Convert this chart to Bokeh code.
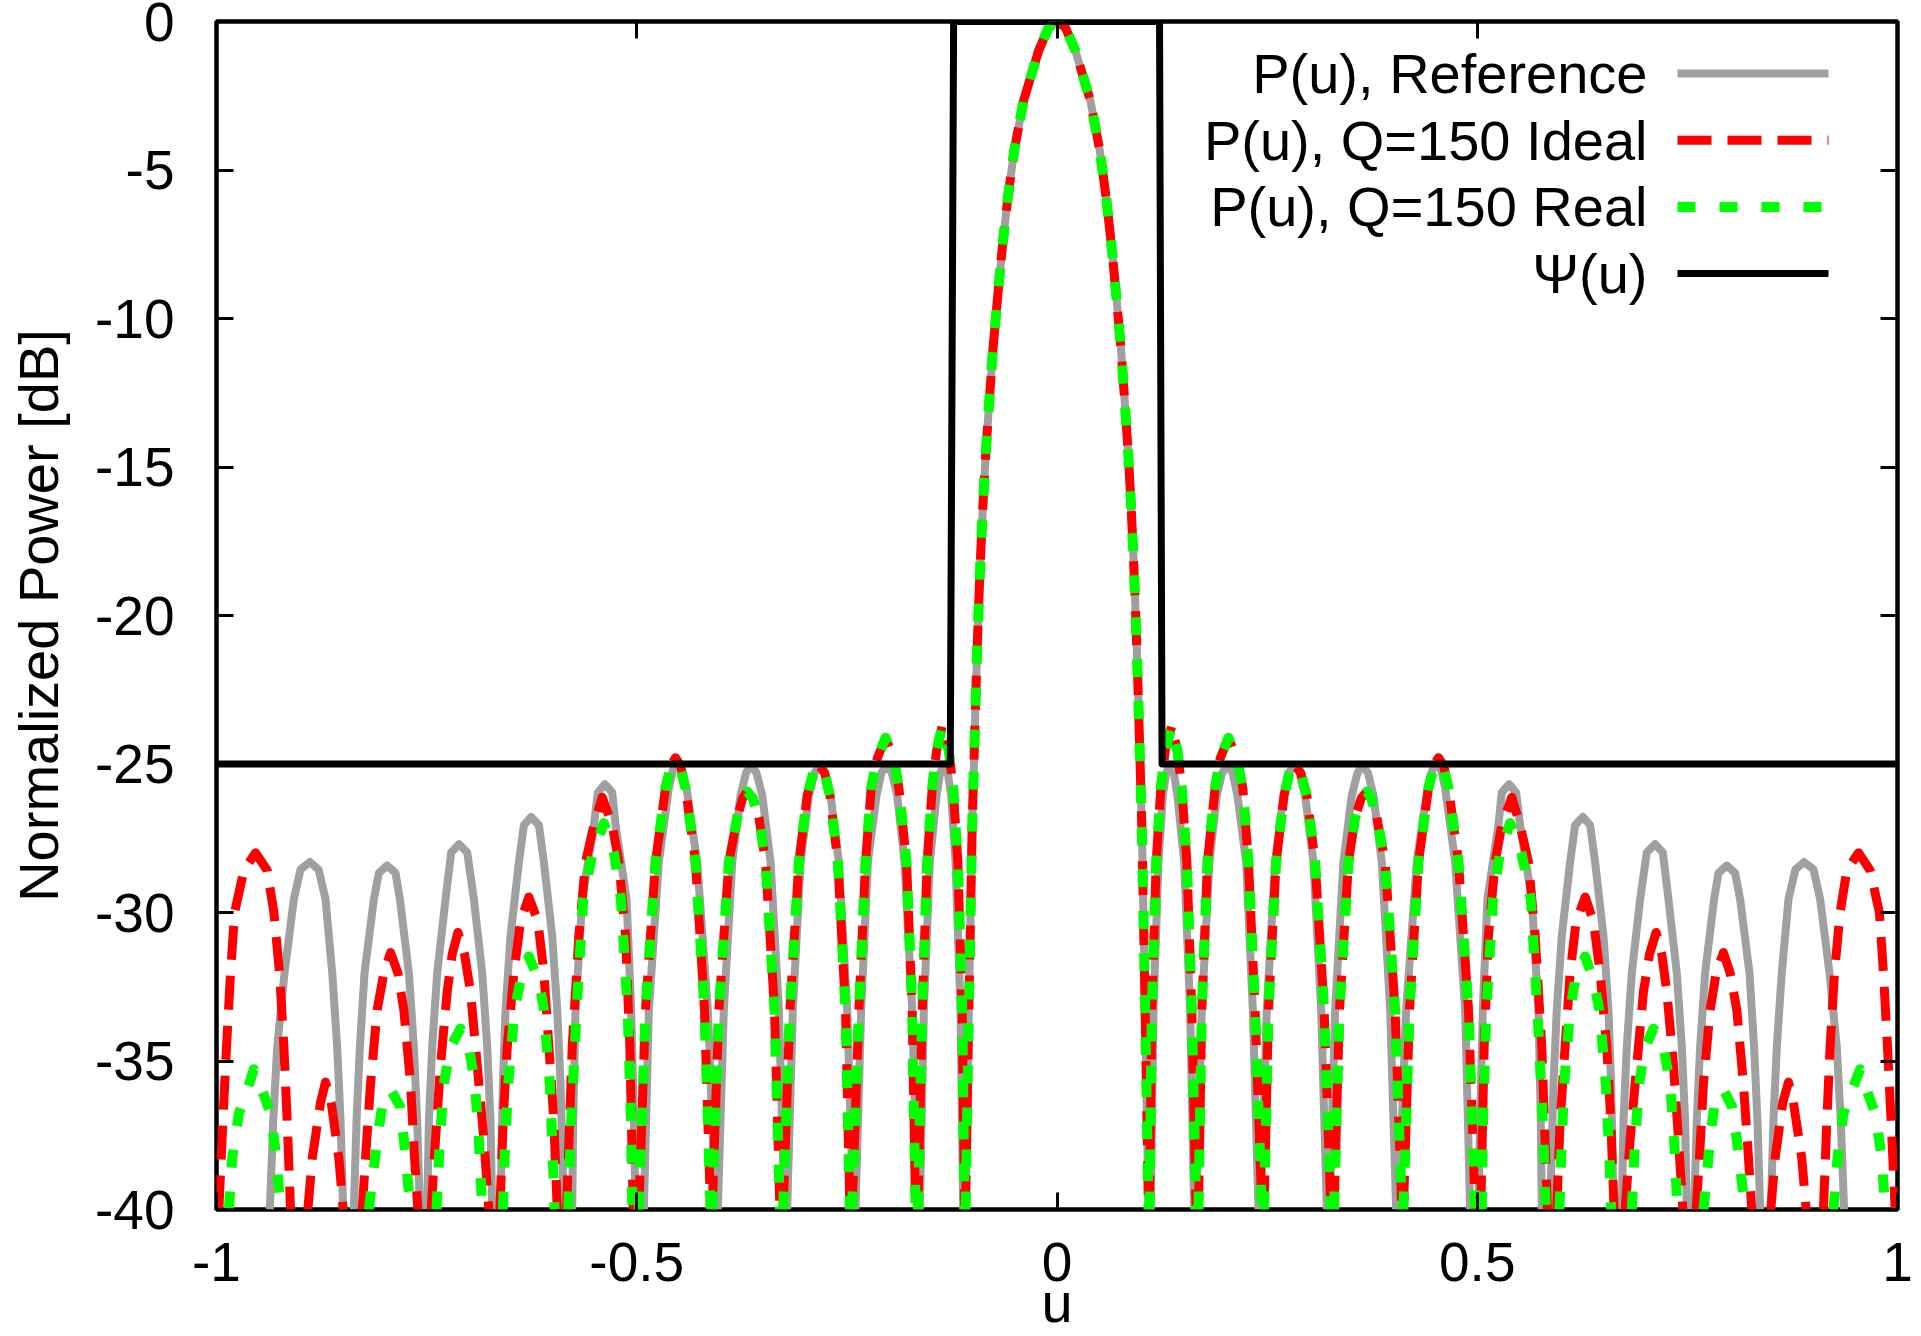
import numpy as np
from bokeh.plotting import figure
from bokeh.models import Range1d, FixedTicker, LinearAxis, Label, Arrow
from bokeh.embed import file_html
from bokeh.resources import INLINE

FONT = "Liberation Sans"
N = None  # break between lobes (curve leaves the visible range below -40 dB)

# ---------------- tick values / labels ----------------
x_ticks = [-1, -0.5, 0, 0.5, 1]
x_tick_labels = ["-1", "-0.5", "0", "0.5", "1"]
y_ticks = [0, -5, -10, -15, -20, -25, -30, -35, -40]
y_tick_labels = ["0", "-5", "-10", "-15", "-20", "-25", "-30", "-35", "-40"]

series_names = ["P(u), Reference", "P(u), Q=150 Ideal", "P(u), Q=150 Real", "\u03a8(u)"]

# ---------------- P(u), Reference ----------------
ref_u = [
    -0.9365, -0.9325, -0.9278, -0.9191, -0.9080, -0.9000, -0.8889, -0.8786, -0.8703, -0.8623, -0.8564, -0.8524, -0.8493, N,
    -0.8366, -0.8334, -0.8294, -0.8239, -0.8128, -0.8068, -0.7969, -0.7870, -0.7818, -0.7711, -0.7652, -0.7612, -0.7580, N,
    -0.7493, -0.7473, -0.7434, -0.7374, -0.7275, -0.7208, -0.7116, -0.7017, -0.6938, -0.6839, -0.6779, -0.6740, -0.6720, N,
    -0.6621, -0.6593, -0.6561, -0.6502, -0.6402, -0.6343, -0.6256, -0.6164, -0.6105, -0.6006, -0.5946, -0.5907, -0.5867, N,
    -0.5768, -0.5756, -0.5728, -0.5649, -0.5510, -0.5463, -0.5379, -0.5292, -0.5252, -0.5121, -0.5066, -0.5034, -0.5014, N,
    -0.4915, -0.4856, -0.4737, -0.4618, -0.4570, -0.4519, -0.4468, -0.4408, -0.4281, -0.4154, -0.4063, N,
    -0.4035, -0.3964, -0.3864, -0.3765, -0.3700, -0.3638, -0.3575, -0.3507, -0.3408, -0.3309, -0.3242, N,
    -0.3210, -0.3143, -0.3051, -0.2952, -0.2885, -0.2821, -0.2757, -0.2694, -0.2595, -0.2496, -0.2425, N,
    -0.2397, -0.2330, -0.2250, -0.2147, -0.2090, -0.2028, -0.1965, -0.1901, -0.1814, -0.1723, -0.1655, N,
    -0.1632, -0.1584, -0.1513, -0.1433, -0.1390, -0.1346, -0.1300, -0.1259, -0.1207, -0.1148, -0.1116, N,
    -0.1088, -0.1049, -0.1009, -0.0984, -0.0968, -0.0950, -0.0930, -0.0906, -0.0878, -0.0845, -0.0805, -0.0763,
    -0.0710, -0.0654, -0.0589, -0.0509, -0.0397, -0.0218, -0.0100, 0.0,
    0.0100, 0.0218, 0.0397, 0.0509, 0.0589, 0.0654, 0.0710, 0.0763, 0.0805, 0.0845, 0.0878, 0.0906,
    0.0930, 0.0950, 0.0968, 0.0984, 0.1009, 0.1049, 0.1088, N,
    0.1116, 0.1148, 0.1207, 0.1259, 0.1300, 0.1346, 0.1390, 0.1433, 0.1513, 0.1584, 0.1632, N,
    0.1655, 0.1723, 0.1814, 0.1901, 0.1965, 0.2028, 0.2090, 0.2147, 0.2250, 0.2330, 0.2397, N,
    0.2425, 0.2496, 0.2595, 0.2694, 0.2757, 0.2821, 0.2885, 0.2952, 0.3051, 0.3143, 0.3210, N,
    0.3242, 0.3309, 0.3408, 0.3507, 0.3575, 0.3638, 0.3700, 0.3765, 0.3864, 0.3964, 0.4035, N,
    0.4063, 0.4154, 0.4281, 0.4408, 0.4468, 0.4519, 0.4570, 0.4618, 0.4737, 0.4856, 0.4915, N,
    0.5014, 0.5034, 0.5066, 0.5121, 0.5252, 0.5292, 0.5379, 0.5463, 0.5510, 0.5649, 0.5728, 0.5756, 0.5768, N,
    0.5867, 0.5907, 0.5946, 0.6006, 0.6105, 0.6164, 0.6256, 0.6343, 0.6402, 0.6502, 0.6561, 0.6593, 0.6621, N,
    0.6720, 0.6740, 0.6779, 0.6839, 0.6938, 0.7017, 0.7116, 0.7208, 0.7275, 0.7374, 0.7434, 0.7473, 0.7493, N,
    0.7580, 0.7612, 0.7652, 0.7711, 0.7818, 0.7870, 0.7969, 0.8068, 0.8128, 0.8239, 0.8294, 0.8334, 0.8366, N,
    0.8493, 0.8524, 0.8564, 0.8623, 0.8703, 0.8786, 0.8889, 0.9000, 0.9080, 0.9191, 0.9278, 0.9325, 0.9365,
]
ref_db = [
    -40, -37.02, -34.53, -32.04, -29.55, -28.55, -28.30, -28.55, -29.55, -32.04, -34.53, -37.02, -40, N,
    -40, -37.02, -34.53, -32.04, -29.55, -28.67, -28.42, -28.67, -29.55, -32.04, -34.53, -37.02, -40, N,
    -40, -37.02, -34.53, -32.04, -29.55, -27.98, -27.70, -27.98, -29.55, -32.04, -34.53, -37.02, -40, N,
    -40, -35.77, -33.28, -30.79, -28.30, -27.06, -26.78, -27.06, -28.30, -30.79, -33.28, -35.77, -40, N,
    -40, -37.02, -33.28, -29.55, -27.06, -25.96, -25.68, -25.96, -27.06, -29.55, -33.28, -37.02, -40, N,
    -40, -33.28, -28.30, -25.81, -25.20, -25.00, -25.20, -25.81, -28.30, -33.28, -40, N,
    -40, -33.28, -28.30, -26.06, -25.30, -25.05, -25.30, -26.06, -28.30, -33.28, -40, N,
    -40, -33.28, -28.30, -26.06, -25.30, -25.05, -25.30, -26.06, -28.30, -33.28, -40, N,
    -40, -33.28, -28.30, -26.06, -25.30, -25.05, -25.30, -26.06, -28.30, -33.28, -40, N,
    -40, -33.28, -28.30, -26.06, -25.30, -25.05, -25.30, -26.06, -28.30, -33.28, -40, N,
    -40, -33.30, -27.06, -24.52, -22.84, -21.16, -19.48, -17.80, -16.11, -14.43, -12.75, -11.07,
    -9.39, -7.70, -6.02, -4.34, -2.66, -0.98, -0.20, 0.0,
    -0.20, -0.98, -2.66, -4.34, -6.02, -7.70, -9.39, -11.07, -12.75, -14.43, -16.11, -17.80,
    -19.48, -21.16, -22.84, -24.52, -27.06, -33.30, -40, N,
    -40, -33.28, -28.30, -26.06, -25.30, -25.05, -25.30, -26.06, -28.30, -33.28, -40, N,
    -40, -33.28, -28.30, -26.06, -25.30, -25.05, -25.30, -26.06, -28.30, -33.28, -40, N,
    -40, -33.28, -28.30, -26.06, -25.30, -25.05, -25.30, -26.06, -28.30, -33.28, -40, N,
    -40, -33.28, -28.30, -26.06, -25.30, -25.05, -25.30, -26.06, -28.30, -33.28, -40, N,
    -40, -33.28, -28.30, -25.81, -25.20, -25.00, -25.20, -25.81, -28.30, -33.28, -40, N,
    -40, -37.02, -33.28, -29.55, -27.06, -25.96, -25.68, -25.96, -27.06, -29.55, -33.28, -37.02, -40, N,
    -40, -35.77, -33.28, -30.79, -28.30, -27.06, -26.78, -27.06, -28.30, -30.79, -33.28, -35.77, -40, N,
    -40, -37.02, -34.53, -32.04, -29.55, -27.98, -27.70, -27.98, -29.55, -32.04, -34.53, -37.02, -40, N,
    -40, -37.02, -34.53, -32.04, -29.55, -28.67, -28.42, -28.67, -29.55, -32.04, -34.53, -37.02, -40, N,
    -40, -37.02, -34.53, -32.04, -29.55, -28.55, -28.30, -28.55, -29.55, -32.04, -34.53, -37.02, -40,
]

# ---------------- P(u), Q=150 Ideal ----------------
ideal_u = [
    -0.9972, -0.9924, -0.9881, -0.9833, -0.9785, -0.9674, -0.9536, -0.9397, -0.9317, -0.9250, -0.9198, -0.9159, -0.9119, N,
    -0.8913, -0.8861, -0.8762, -0.8703, -0.8635, -0.8544, -0.8493, N,
    -0.8266, -0.8227, -0.8167, -0.8088, -0.8009, -0.7929, -0.7842, -0.7771, -0.7691, -0.7644, -0.7604, N,
    -0.7446, -0.7394, -0.7335, -0.7255, -0.7196, -0.7128, -0.7049, -0.6978, -0.6898, -0.6819, -0.6760, N,
    -0.6628, -0.6589, -0.6541, -0.6462, -0.6383, -0.6284, -0.6176, -0.6105, -0.6045, -0.5986, -0.5946, N,
    -0.5835, -0.5768, -0.5689, -0.5609, -0.5510, -0.5411, -0.5292, -0.5213, -0.5133, -0.5082, -0.5042, N,
    -0.4975, -0.4896, -0.4777, -0.4658, -0.4600, -0.4539, -0.4480, -0.4420, -0.4301, -0.4194, -0.4122, N,
    -0.4102, -0.4023, -0.3904, -0.3805, -0.3740, -0.3686, -0.3620, -0.3547, -0.3468, -0.3361, -0.3297, N,
    -0.3258, -0.3178, -0.3071, -0.2972, -0.2900, -0.2833, -0.2765, -0.2702, -0.2607, -0.2516, -0.2464, N,
    -0.2437, -0.2357, -0.2278, -0.2211, -0.2139, -0.2040, -0.1941, -0.1881, -0.1790, -0.1723, -0.1683, N,
    -0.1655, -0.1604, -0.1545, -0.1485, -0.1433, -0.1366, -0.1287, -0.1235, -0.1180, -0.1128, -0.1100, N,
    -0.1088, -0.1049, -0.1009, -0.0984, -0.0968, -0.0950, -0.0930, -0.0906, -0.0878, -0.0845, -0.0805, -0.0763,
    -0.0710, -0.0654, -0.0589, -0.0509, -0.0397, -0.0218, -0.0100, 0.0,
    0.0100, 0.0218, 0.0397, 0.0509, 0.0589, 0.0654, 0.0710, 0.0763, 0.0805, 0.0845, 0.0878, 0.0906,
    0.0930, 0.0950, 0.0968, 0.0984, 0.1009, 0.1049, 0.1088, N,
    0.1100, 0.1128, 0.1180, 0.1235, 0.1287, 0.1366, 0.1433, 0.1485, 0.1545, 0.1604, 0.1655, N,
    0.1683, 0.1723, 0.1790, 0.1881, 0.1941, 0.2040, 0.2139, 0.2211, 0.2278, 0.2357, 0.2437, N,
    0.2464, 0.2516, 0.2607, 0.2702, 0.2765, 0.2833, 0.2900, 0.2972, 0.3071, 0.3178, 0.3258, N,
    0.3297, 0.3361, 0.3468, 0.3547, 0.3620, 0.3686, 0.3740, 0.3805, 0.3904, 0.4023, 0.4102, N,
    0.4122, 0.4194, 0.4301, 0.4420, 0.4480, 0.4539, 0.4600, 0.4658, 0.4777, 0.4896, 0.4975, N,
    0.5042, 0.5082, 0.5133, 0.5213, 0.5292, 0.5411, 0.5510, 0.5609, 0.5689, 0.5768, 0.5835, N,
    0.5946, 0.5986, 0.6045, 0.6105, 0.6176, 0.6284, 0.6383, 0.6462, 0.6541, 0.6589, 0.6628, N,
    0.6760, 0.6819, 0.6898, 0.6978, 0.7049, 0.7128, 0.7196, 0.7255, 0.7335, 0.7394, 0.7446, N,
    0.7604, 0.7644, 0.7691, 0.7771, 0.7842, 0.7929, 0.8009, 0.8088, 0.8167, 0.8227, 0.8266, N,
    0.8493, 0.8544, 0.8635, 0.8703, 0.8762, 0.8861, 0.8913, N,
    0.9119, 0.9159, 0.9198, 0.9250, 0.9317, 0.9397, 0.9536, 0.9674, 0.9785, 0.9833, 0.9881, 0.9924, 0.9972,
]
ideal_db = [
    -40, -37.02, -34.53, -32.04, -30.00, -28.58, -27.99, -28.58, -30.00, -32.04, -34.53, -37.02, -40, N,
    -40, -38.27, -36.40, -35.71, -36.40, -38.27, -40, N,
    -40, -38.27, -35.77, -33.28, -32.04, -31.35, -32.04, -33.28, -35.77, -38.27, -40, N,
    -40, -37.64, -35.15, -32.66, -31.41, -30.67, -31.41, -32.66, -35.15, -37.64, -40, N,
    -40, -37.02, -34.53, -32.04, -30.30, -29.48, -30.30, -32.04, -34.53, -37.02, -40, N,
    -40, -34.53, -30.79, -28.30, -27.06, -26.12, -27.06, -28.30, -30.79, -34.53, -40, N,
    -40, -33.28, -28.30, -25.81, -25.05, -24.79, -25.05, -25.81, -28.30, -33.28, -40, N,
    -40, -33.28, -28.30, -26.80, -26.15, -25.93, -26.15, -26.80, -28.30, -33.28, -40, N,
    -40, -33.28, -28.30, -26.06, -25.30, -25.04, -25.30, -26.06, -28.30, -33.28, -40, N,
    -40, -33.28, -28.30, -25.81, -24.81, -24.12, -24.81, -25.81, -28.30, -33.28, -40, N,
    -40, -33.28, -28.30, -25.81, -24.56, -23.71, -24.56, -25.81, -28.30, -33.28, -40, N,
    -40, -33.30, -27.06, -24.52, -22.84, -21.16, -19.48, -17.80, -16.11, -14.43, -12.75, -11.07,
    -9.39, -7.70, -6.02, -4.34, -2.66, -0.98, -0.20, 0.0,
    -0.20, -0.98, -2.66, -4.34, -6.02, -7.70, -9.39, -11.07, -12.75, -14.43, -16.11, -17.80,
    -19.48, -21.16, -22.84, -24.52, -27.06, -33.30, -40, N,
    -40, -33.28, -28.30, -25.81, -24.56, -23.71, -24.56, -25.81, -28.30, -33.28, -40, N,
    -40, -33.28, -28.30, -25.81, -24.81, -24.12, -24.81, -25.81, -28.30, -33.28, -40, N,
    -40, -33.28, -28.30, -26.06, -25.30, -25.04, -25.30, -26.06, -28.30, -33.28, -40, N,
    -40, -33.28, -28.30, -26.80, -26.15, -25.93, -26.15, -26.80, -28.30, -33.28, -40, N,
    -40, -33.28, -28.30, -25.81, -25.05, -24.79, -25.05, -25.81, -28.30, -33.28, -40, N,
    -40, -34.53, -30.79, -28.30, -27.06, -26.12, -27.06, -28.30, -30.79, -34.53, -40, N,
    -40, -37.02, -34.53, -32.04, -30.30, -29.48, -30.30, -32.04, -34.53, -37.02, -40, N,
    -40, -37.64, -35.15, -32.66, -31.41, -30.67, -31.41, -32.66, -35.15, -37.64, -40, N,
    -40, -38.27, -35.77, -33.28, -32.04, -31.35, -32.04, -33.28, -35.77, -38.27, -40, N,
    -40, -38.27, -36.40, -35.71, -36.40, -38.27, -40, N,
    -40, -37.02, -34.53, -32.04, -30.00, -28.58, -27.99, -28.58, -30.00, -32.04, -34.53, -37.02, -40,
]

# ---------------- P(u), Q=150 Real ----------------
real_u = [
    -0.9853, -0.9813, -0.9734, -0.9655, -0.9555, -0.9436, -0.9357, -0.9286, -0.9238, N,
    -0.8187, -0.8088, -0.8029, -0.7929, -0.7818, -0.7771, -0.7692, N,
    -0.7382, -0.7342, -0.7295, -0.7216, -0.7097, -0.6997, -0.6926, -0.6878, -0.6839, N,
    -0.6593, -0.6573, -0.6530, -0.6454, -0.6383, -0.6284, -0.6164, -0.6105, -0.6034, -0.5998, -0.5978, N,
    -0.5815, -0.5780, -0.5716, -0.5637, -0.5530, -0.5391, -0.5267, -0.5188, -0.5108, -0.5069, -0.5053, N,
    -0.4975, -0.4896, -0.4777, -0.4658, -0.4600, -0.4539, -0.4480, -0.4420, -0.4301, -0.4194, -0.4122, N,
    -0.4102, -0.4023, -0.3904, -0.3805, -0.3740, -0.3686, -0.3620, -0.3547, -0.3468, -0.3361, -0.3297, N,
    -0.3258, -0.3178, -0.3071, -0.2972, -0.2900, -0.2833, -0.2765, -0.2702, -0.2607, -0.2516, -0.2464, N,
    -0.2437, -0.2357, -0.2278, -0.2211, -0.2139, -0.2040, -0.1941, -0.1881, -0.1790, -0.1723, -0.1683, N,
    -0.1655, -0.1604, -0.1545, -0.1485, -0.1433, -0.1366, -0.1287, -0.1235, -0.1180, -0.1128, -0.1100, N,
    -0.1088, -0.1049, -0.1009, -0.0984, -0.0968, -0.0950, -0.0930, -0.0906, -0.0878, -0.0845, -0.0805, -0.0763,
    -0.0710, -0.0654, -0.0589, -0.0509, -0.0397, -0.0218, -0.0100, 0.0,
    0.0100, 0.0218, 0.0397, 0.0509, 0.0589, 0.0654, 0.0710, 0.0763, 0.0805, 0.0845, 0.0878, 0.0906,
    0.0930, 0.0950, 0.0968, 0.0984, 0.1009, 0.1049, 0.1088, N,
    0.1100, 0.1128, 0.1180, 0.1235, 0.1287, 0.1366, 0.1433, 0.1485, 0.1545, 0.1604, 0.1655, N,
    0.1683, 0.1723, 0.1790, 0.1881, 0.1941, 0.2040, 0.2139, 0.2211, 0.2278, 0.2357, 0.2437, N,
    0.2464, 0.2516, 0.2607, 0.2702, 0.2765, 0.2833, 0.2900, 0.2972, 0.3071, 0.3178, 0.3258, N,
    0.3297, 0.3361, 0.3468, 0.3547, 0.3620, 0.3686, 0.3740, 0.3805, 0.3904, 0.4023, 0.4102, N,
    0.4122, 0.4194, 0.4301, 0.4420, 0.4480, 0.4539, 0.4600, 0.4658, 0.4777, 0.4896, 0.4975, N,
    0.5053, 0.5069, 0.5108, 0.5188, 0.5267, 0.5391, 0.5530, 0.5637, 0.5716, 0.5780, 0.5815, N,
    0.5978, 0.5998, 0.6034, 0.6105, 0.6164, 0.6284, 0.6383, 0.6454, 0.6530, 0.6573, 0.6593, N,
    0.6839, 0.6878, 0.6926, 0.6997, 0.7097, 0.7216, 0.7295, 0.7342, 0.7382, N,
    0.7692, 0.7771, 0.7818, 0.7929, 0.8029, 0.8088, 0.8187, N,
    0.9238, 0.9286, 0.9357, 0.9436, 0.9555, 0.9655, 0.9734, 0.9813, 0.9853,
]
real_db = [
    -40, -38.27, -36.77, -36.15, -35.28, -36.15, -36.77, -38.27, -40, N,
    -40, -37.64, -36.52, -35.96, -36.52, -37.64, -40, N,
    -40, -37.64, -35.77, -34.53, -33.91, -34.53, -35.77, -37.64, -40, N,
    -40, -38.27, -35.77, -33.28, -32.29, -31.48, -32.29, -33.28, -35.77, -38.27, -40, N,
    -40, -37.02, -33.28, -29.55, -28.05, -26.99, -28.05, -29.55, -33.28, -37.02, -40, N,
    -40, -33.28, -28.30, -25.81, -25.15, -24.95, -25.15, -25.81, -28.30, -33.28, -40, N,
    -40, -33.28, -28.30, -26.80, -26.15, -25.93, -26.15, -26.80, -28.30, -33.28, -40, N,
    -40, -33.28, -28.30, -26.06, -25.30, -25.04, -25.30, -26.06, -28.30, -33.28, -40, N,
    -40, -33.28, -28.30, -25.81, -24.81, -24.12, -24.81, -25.81, -28.30, -33.28, -40, N,
    -40, -33.28, -28.30, -25.81, -24.56, -23.71, -24.56, -25.81, -28.30, -33.28, -40, N,
    -40, -33.30, -27.06, -24.52, -22.84, -21.16, -19.48, -17.80, -16.11, -14.43, -12.75, -11.07,
    -9.39, -7.70, -6.02, -4.34, -2.66, -0.98, -0.20, 0.0,
    -0.20, -0.98, -2.66, -4.34, -6.02, -7.70, -9.39, -11.07, -12.75, -14.43, -16.11, -17.80,
    -19.48, -21.16, -22.84, -24.52, -27.06, -33.30, -40, N,
    -40, -33.28, -28.30, -25.81, -24.56, -23.71, -24.56, -25.81, -28.30, -33.28, -40, N,
    -40, -33.28, -28.30, -25.81, -24.81, -24.12, -24.81, -25.81, -28.30, -33.28, -40, N,
    -40, -33.28, -28.30, -26.06, -25.30, -25.04, -25.30, -26.06, -28.30, -33.28, -40, N,
    -40, -33.28, -28.30, -26.80, -26.15, -25.93, -26.15, -26.80, -28.30, -33.28, -40, N,
    -40, -33.28, -28.30, -25.81, -25.15, -24.95, -25.15, -25.81, -28.30, -33.28, -40, N,
    -40, -37.02, -33.28, -29.55, -28.05, -26.99, -28.05, -29.55, -33.28, -37.02, -40, N,
    -40, -38.27, -35.77, -33.28, -32.29, -31.48, -32.29, -33.28, -35.77, -38.27, -40, N,
    -40, -37.64, -35.77, -34.53, -33.91, -34.53, -35.77, -37.64, -40, N,
    -40, -37.64, -36.52, -35.96, -36.52, -37.64, -40, N,
    -40, -38.27, -36.77, -36.15, -35.28, -36.15, -36.77, -38.27, -40,
]

# ---------------- Psi(u) mask ----------------
psi_u = [-1.0, -0.127, -0.123, 0.122, 0.125, 1.0]
psi_db = [-25, -25, 0, 0, -25, -25]

# ---------------- styles ----------------
colors = ["#a0a0a0", "#ff0000", "#00ff00", "#000000"]
widths = [8, 9, 10, 7]
dashes = ["solid", "34 16", "18 24", "solid"]

p = figure(width=1921, height=1336,
           x_range=Range1d(-1, 1), y_range=Range1d(-40, 0),
           min_border_left=216, min_border_right=24, min_border_top=21, min_border_bottom=126,
           toolbar_location=None, output_backend="svg")
p.grid.visible = False
p.background_fill_color = "white"
p.border_fill_color = "white"
p.outline_line_color = "black"
p.outline_line_width = 4.5

all_series = [(ref_u, ref_db), (ideal_u, ideal_db), (real_u, real_db), (psi_u, psi_db)]
for (xs, ys), c, w, d in zip(all_series, colors, widths, dashes):
    p.line(np.array(xs, dtype=float), np.array(ys, dtype=float),
           line_color=c, line_width=w, line_dash=d, line_join="round", line_cap="butt")


def style_axis(ax, ticks, labels, show):
    ax.ticker = FixedTicker(ticks=ticks)
    ax.major_tick_in = 17
    ax.major_tick_out = 0
    ax.major_tick_line_width = 3
    ax.major_tick_line_color = "black"
    ax.minor_tick_line_color = None
    ax.axis_line_color = None
    if show:
        ax.major_label_overrides = {t: s for t, s in zip(ticks, labels)}
        ax.major_label_text_font = FONT
        ax.major_label_text_font_size = "55px"
        ax.major_label_text_color = "black"
    else:
        ax.major_label_text_font_size = "1px"
        ax.major_label_text_color = None
        ax.major_label_standoff = 0


style_axis(p.xaxis[0], x_ticks, x_tick_labels, True)
p.xaxis[0].major_label_standoff = 33
p.xaxis[0].axis_label = "u"
p.xaxis[0].axis_label_text_font = FONT
p.xaxis[0].axis_label_text_font_size = "56px"
p.xaxis[0].axis_label_text_font_style = "normal"
p.xaxis[0].axis_label_text_color = "black"
p.xaxis[0].axis_label_standoff = -13

style_axis(p.yaxis[0], y_ticks, y_tick_labels, True)
p.yaxis[0].major_label_standoff = 42
p.yaxis[0].axis_label = "Normalized Power [dB]"
p.yaxis[0].axis_label_text_font = FONT
p.yaxis[0].axis_label_text_font_size = "56px"
p.yaxis[0].axis_label_text_font_style = "normal"
p.yaxis[0].axis_label_text_color = "black"
p.yaxis[0].axis_label_standoff = 22

top_ax = LinearAxis()
style_axis(top_ax, x_ticks, x_tick_labels, False)
p.add_layout(top_ax, "above")
right_ax = LinearAxis()
style_axis(right_ax, y_ticks, y_tick_labels, False)
p.add_layout(right_ax, "right")

# key (text on the left, sample line on the right)
for i, (name, c, w, d) in enumerate(zip(series_names, colors, widths, dashes)):
    row_y = 1136 - 66.7 * i
    p.add_layout(Label(x=1431, y=row_y, x_units="screen", y_units="screen", text=name,
                       text_align="right", text_baseline="middle",
                       text_font=FONT, text_font_size="56px", text_color="black"))
    p.add_layout(Arrow(start=None, end=None, x_start=1461, y_start=row_y,
                       x_end=1612, y_end=row_y, start_units="screen", end_units="screen",
                       line_color=c, line_width=w, line_dash=d, line_cap="butt"))

open("out.html", "w").write(file_html(p, INLINE))
